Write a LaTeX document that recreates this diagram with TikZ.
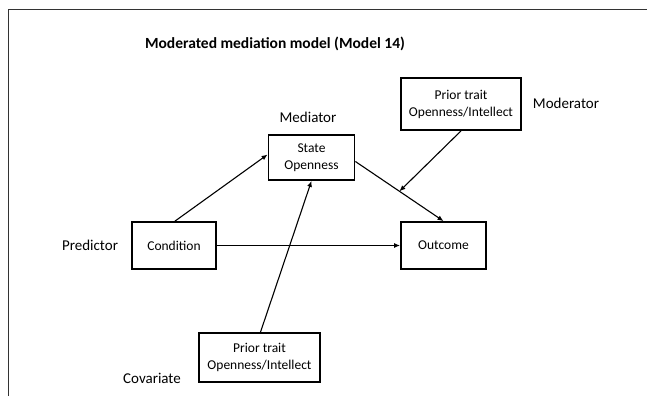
\documentclass[tikz,border=0pt]{standalone}
\usepackage{fontspec}
\setmainfont{Carlito}
\usetikzlibrary{arrows.meta,calc}
\tikzset{
  vbox/.style={draw, line width=1.8pt, minimum width=#1, align=center, font=\fontsize{13.5}{17}\selectfont, inner sep=0pt},
  lbl/.style={font=\fontsize{15}{18}\selectfont, inner sep=0pt},
  conn/.style={line width=1.1pt, -{Latex[length=6pt,width=5pt]}}
}
\begin{document}
\begin{tikzpicture}[x=1pt,y=-1pt]
\useasboundingbox (0,0) rectangle (647,396);
\draw[line width=1pt, black!80] (8,396) -- (8,10) -- (647,10);
\node[font=\bfseries\fontsize{15.5}{18}\selectfont] (title) at (275,44) {Moderated mediation model (Model 14)};
\node[vbox=120pt, minimum height=52pt] (mod) at (461,104) {Prior trait\\Openness/Intellect};
\node[lbl] (modl) at (566,103) {Moderator};
\node[lbl] (medl) at (308,117) {Mediator};
\node[vbox=86pt, minimum height=45pt] (med) at (311.5,157.5) {State\\Openness};
\node[vbox=84pt, minimum height=47pt] (cond) at (174,245.5) {Condition};
\node[lbl] (predl) at (90,245) {Predictor};
\node[vbox=85pt, minimum height=47pt] (out) at (443.5,245.5) {Outcome};
\node[vbox=121pt, minimum height=49pt] (cov) at (259.5,357.5) {Prior trait\\Openness/Intellect};
\node[lbl] (covl) at (152,378) {Covariate};
\coordinate (cs) at ([xshift=1pt]cond.north);
\coordinate (me) at ([yshift=3pt]med.west);
\draw[conn] (cs) -- (me);
\coordinate (ms) at ([yshift=-4pt]med.east);
\draw[conn] (ms) -- (out.north);
\draw[conn] (cond.east) -- (out.west);
\coordinate (mid) at ($(ms)!0.5!(out.north)$);
\draw[conn] (mod.south) -- (mid);
\draw[conn] ([xshift=1pt]cov.north) -- (med.south);
\end{tikzpicture}
\end{document}
